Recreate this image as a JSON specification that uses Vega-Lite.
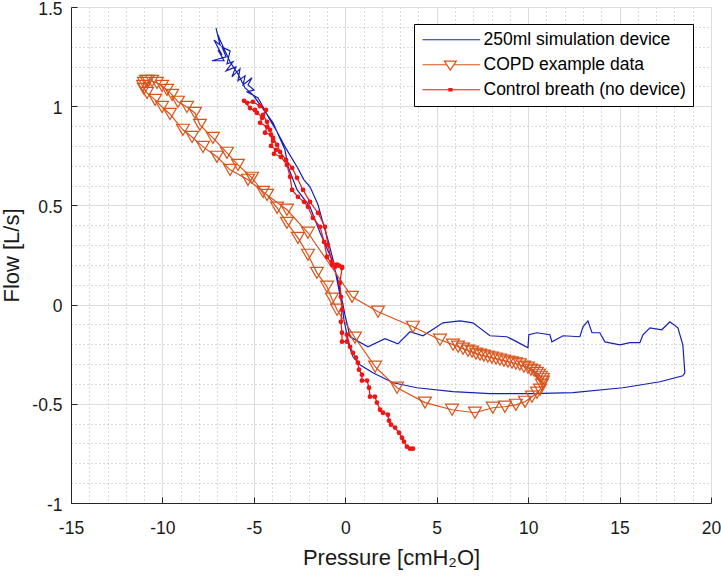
{
  "$schema": "https://vega.github.io/schema/vega-lite/v6.json",
  "width": 640,
  "height": 496,
  "autosize": {"type": "none"},
  "padding": {"left": 71, "top": 7, "right": 10, "bottom": 73},
  "background": "white",
  "config": {
    "view": {"stroke": null},
    "font": "Liberation Sans",
    "axis": {"labelFont": "Liberation Sans", "titleFont": "Liberation Sans", "labelColor": "#1a1a1a", "titleColor": "#1a1a1a", "titleFontWeight": "normal"}
  },
  "data": {"values": [
    {"s":"250ml simulation device","i":1,"x":-7.07,"y":1.394},
    {"s":"250ml simulation device","i":2,"x":-6.85,"y":1.309},
    {"s":"250ml simulation device","i":3,"x":-7.18,"y":1.334},
    {"s":"250ml simulation device","i":4,"x":-6.74,"y":1.258},
    {"s":"250ml simulation device","i":5,"x":-6.96,"y":1.284},
    {"s":"250ml simulation device","i":6,"x":-6.63,"y":1.229},
    {"s":"250ml simulation device","i":7,"x":-7.29,"y":1.229},
    {"s":"250ml simulation device","i":8,"x":-6.52,"y":1.249},
    {"s":"250ml simulation device","i":9,"x":-6.74,"y":1.299},
    {"s":"250ml simulation device","i":10,"x":-6.30,"y":1.279},
    {"s":"250ml simulation device","i":11,"x":-6.47,"y":1.214},
    {"s":"250ml simulation device","i":12,"x":-6.14,"y":1.224},
    {"s":"250ml simulation device","i":13,"x":-6.52,"y":1.178},
    {"s":"250ml simulation device","i":14,"x":-5.98,"y":1.198},
    {"s":"250ml simulation device","i":15,"x":-6.20,"y":1.148},
    {"s":"250ml simulation device","i":16,"x":-5.76,"y":1.188},
    {"s":"250ml simulation device","i":17,"x":-5.87,"y":1.128},
    {"s":"250ml simulation device","i":18,"x":-5.48,"y":1.153},
    {"s":"250ml simulation device","i":19,"x":-5.59,"y":1.107},
    {"s":"250ml simulation device","i":20,"x":-5.10,"y":1.143},
    {"s":"250ml simulation device","i":21,"x":-5.32,"y":1.107},
    {"s":"250ml simulation device","i":22,"x":-4.99,"y":1.082},
    {"s":"250ml simulation device","i":23,"x":-5.37,"y":1.072},
    {"s":"250ml simulation device","i":24,"x":-4.77,"y":1.042},
    {"s":"250ml simulation device","i":25,"x":-4.50,"y":0.997},
    {"s":"250ml simulation device","i":26,"x":-4.12,"y":0.931},
    {"s":"250ml simulation device","i":27,"x":-3.73,"y":0.871},
    {"s":"250ml simulation device","i":28,"x":-3.41,"y":0.815},
    {"s":"250ml simulation device","i":29,"x":-3.13,"y":0.770},
    {"s":"250ml simulation device","i":30,"x":-2.64,"y":0.695},
    {"s":"250ml simulation device","i":31,"x":-2.26,"y":0.629},
    {"s":"250ml simulation device","i":32,"x":-1.93,"y":0.594},
    {"s":"250ml simulation device","i":33,"x":-1.49,"y":0.503},
    {"s":"250ml simulation device","i":34,"x":-1.27,"y":0.428},
    {"s":"250ml simulation device","i":35,"x":-0.95,"y":0.327},
    {"s":"250ml simulation device","i":36,"x":-0.67,"y":0.226},
    {"s":"250ml simulation device","i":37,"x":-0.40,"y":0.100},
    {"s":"250ml simulation device","i":38,"x":-0.18,"y":-0.001},
    {"s":"250ml simulation device","i":39,"x":-0.07,"y":-0.077},
    {"s":"250ml simulation device","i":40,"x":0.09,"y":-0.152},
    {"s":"250ml simulation device","i":41,"x":0.15,"y":-0.192},
    {"s":"250ml simulation device","i":42,"x":0.42,"y":-0.263},
    {"s":"250ml simulation device","i":43,"x":0.80,"y":-0.303},
    {"s":"250ml simulation device","i":44,"x":1.51,"y":-0.344},
    {"s":"250ml simulation device","i":45,"x":2.61,"y":-0.394},
    {"s":"250ml simulation device","i":46,"x":3.92,"y":-0.419},
    {"s":"250ml simulation device","i":47,"x":5.89,"y":-0.439},
    {"s":"250ml simulation device","i":48,"x":7.91,"y":-0.449},
    {"s":"250ml simulation device","i":49,"x":10.26,"y":-0.449},
    {"s":"250ml simulation device","i":50,"x":12.45,"y":-0.444},
    {"s":"250ml simulation device","i":51,"x":15.18,"y":-0.419},
    {"s":"250ml simulation device","i":52,"x":17.21,"y":-0.389},
    {"s":"250ml simulation device","i":53,"x":18.46,"y":-0.359},
    {"s":"250ml simulation device","i":54,"x":18.57,"y":-0.344},
    {"s":"250ml simulation device","i":55,"x":18.52,"y":-0.279},
    {"s":"250ml simulation device","i":56,"x":18.46,"y":-0.203},
    {"s":"250ml simulation device","i":57,"x":18.19,"y":-0.117},
    {"s":"250ml simulation device","i":58,"x":17.75,"y":-0.087},
    {"s":"250ml simulation device","i":59,"x":17.31,"y":-0.127},
    {"s":"250ml simulation device","i":60,"x":16.66,"y":-0.117},
    {"s":"250ml simulation device","i":61,"x":16.28,"y":-0.152},
    {"s":"250ml simulation device","i":62,"x":16.11,"y":-0.192},
    {"s":"250ml simulation device","i":63,"x":15.57,"y":-0.192},
    {"s":"250ml simulation device","i":64,"x":15.02,"y":-0.203},
    {"s":"250ml simulation device","i":65,"x":14.20,"y":-0.188},
    {"s":"250ml simulation device","i":66,"x":13.92,"y":-0.142},
    {"s":"250ml simulation device","i":67,"x":13.49,"y":-0.142},
    {"s":"250ml simulation device","i":68,"x":13.27,"y":-0.082},
    {"s":"250ml simulation device","i":69,"x":13.00,"y":-0.112},
    {"s":"250ml simulation device","i":70,"x":12.83,"y":-0.162},
    {"s":"250ml simulation device","i":71,"x":11.91,"y":-0.157},
    {"s":"250ml simulation device","i":72,"x":11.30,"y":-0.188},
    {"s":"250ml simulation device","i":73,"x":11.19,"y":-0.152},
    {"s":"250ml simulation device","i":74,"x":10.48,"y":-0.142},
    {"s":"250ml simulation device","i":75,"x":10.04,"y":-0.152},
    {"s":"250ml simulation device","i":76,"x":9.99,"y":-0.218},
    {"s":"250ml simulation device","i":77,"x":9.39,"y":-0.188},
    {"s":"250ml simulation device","i":78,"x":8.84,"y":-0.162},
    {"s":"250ml simulation device","i":79,"x":7.91,"y":-0.157},
    {"s":"250ml simulation device","i":80,"x":6.98,"y":-0.092},
    {"s":"250ml simulation device","i":81,"x":6.27,"y":-0.082},
    {"s":"250ml simulation device","i":82,"x":5.34,"y":-0.092},
    {"s":"250ml simulation device","i":83,"x":4.25,"y":-0.157},
    {"s":"250ml simulation device","i":84,"x":3.54,"y":-0.137},
    {"s":"250ml simulation device","i":85,"x":2.88,"y":-0.198},
    {"s":"250ml simulation device","i":86,"x":2.17,"y":-0.172},
    {"s":"250ml simulation device","i":87,"x":1.24,"y":-0.213},
    {"s":"250ml simulation device","i":88,"x":0.26,"y":-0.162},
    {"s":"250ml simulation device","i":89,"x":-0.02,"y":-0.051},
    {"s":"250ml simulation device","i":90,"x":-0.18,"y":0.024},
    {"s":"250ml simulation device","i":91,"x":-0.40,"y":0.125},
    {"s":"250ml simulation device","i":92,"x":-0.73,"y":0.226},
    {"s":"250ml simulation device","i":93,"x":-1.38,"y":0.362},
    {"s":"250ml simulation device","i":94,"x":-1.93,"y":0.493},
    {"s":"250ml simulation device","i":95,"x":-2.64,"y":0.579},
    {"s":"250ml simulation device","i":96,"x":-3.13,"y":0.695},
    {"s":"250ml simulation device","i":97,"x":-3.30,"y":0.780},
    {"s":"250ml simulation device","i":98,"x":-3.95,"y":0.916},
    {"s":"250ml simulation device","i":99,"x":-5.05,"y":1.057},
    {"s":"250ml simulation device","i":100,"x":-5.48,"y":1.092},
    {"s":"250ml simulation device","i":101,"x":-5.87,"y":1.163},
    {"s":"250ml simulation device","i":102,"x":-6.30,"y":1.223},
    {"s":"250ml simulation device","i":103,"x":-6.85,"y":1.334},
    {"s":"250ml simulation device","i":104,"x":-6.96,"y":1.360},

    {"s":"COPD example data","i":1,"x":-10.79,"y":1.127},
    {"s":"COPD example data","i":2,"x":-10.57,"y":1.127},
    {"s":"COPD example data","i":3,"x":-10.30,"y":1.117},
    {"s":"COPD example data","i":4,"x":-10.02,"y":1.102},
    {"s":"COPD example data","i":5,"x":-9.75,"y":1.082},
    {"s":"COPD example data","i":6,"x":-9.47,"y":1.057},
    {"s":"COPD example data","i":7,"x":-9.15,"y":1.022},
    {"s":"COPD example data","i":8,"x":-8.66,"y":0.996},
    {"s":"COPD example data","i":9,"x":-8.22,"y":0.966},
    {"s":"COPD example data","i":10,"x":-7.95,"y":0.906},
    {"s":"COPD example data","i":11,"x":-7.24,"y":0.840},
    {"s":"COPD example data","i":12,"x":-6.47,"y":0.765},
    {"s":"COPD example data","i":13,"x":-5.87,"y":0.704},
    {"s":"COPD example data","i":14,"x":-5.10,"y":0.639},
    {"s":"COPD example data","i":15,"x":-4.50,"y":0.568},
    {"s":"COPD example data","i":16,"x":-3.19,"y":0.478},
    {"s":"COPD example data","i":17,"x":-2.04,"y":0.362},
    {"s":"COPD example data","i":18,"x":0.37,"y":0.039},
    {"s":"COPD example data","i":19,"x":1.79,"y":-0.036},
    {"s":"COPD example data","i":20,"x":3.70,"y":-0.112},
    {"s":"COPD example data","i":21,"x":5.18,"y":-0.177},
    {"s":"COPD example data","i":22,"x":5.89,"y":-0.202},
    {"s":"COPD example data","i":23,"x":6.17,"y":-0.212},
    {"s":"COPD example data","i":24,"x":6.44,"y":-0.222},
    {"s":"COPD example data","i":25,"x":6.71,"y":-0.232},
    {"s":"COPD example data","i":26,"x":6.93,"y":-0.237},
    {"s":"COPD example data","i":27,"x":7.15,"y":-0.247},
    {"s":"COPD example data","i":28,"x":7.37,"y":-0.252},
    {"s":"COPD example data","i":29,"x":7.58,"y":-0.257},
    {"s":"COPD example data","i":30,"x":7.80,"y":-0.262},
    {"s":"COPD example data","i":31,"x":8.02,"y":-0.267},
    {"s":"COPD example data","i":32,"x":8.24,"y":-0.272},
    {"s":"COPD example data","i":33,"x":8.46,"y":-0.277},
    {"s":"COPD example data","i":34,"x":8.68,"y":-0.282},
    {"s":"COPD example data","i":35,"x":8.90,"y":-0.287},
    {"s":"COPD example data","i":36,"x":9.12,"y":-0.292},
    {"s":"COPD example data","i":37,"x":9.33,"y":-0.297},
    {"s":"COPD example data","i":38,"x":9.55,"y":-0.302},
    {"s":"COPD example data","i":39,"x":9.77,"y":-0.313},
    {"s":"COPD example data","i":40,"x":9.99,"y":-0.318},
    {"s":"COPD example data","i":41,"x":10.15,"y":-0.328},
    {"s":"COPD example data","i":42,"x":10.32,"y":-0.333},
    {"s":"COPD example data","i":43,"x":10.48,"y":-0.344},
    {"s":"COPD example data","i":44,"x":10.59,"y":-0.354},
    {"s":"COPD example data","i":45,"x":10.70,"y":-0.364},
    {"s":"COPD example data","i":46,"x":10.81,"y":-0.374},
    {"s":"COPD example data","i":47,"x":10.81,"y":-0.389},
    {"s":"COPD example data","i":48,"x":10.75,"y":-0.404},
    {"s":"COPD example data","i":49,"x":10.65,"y":-0.429},
    {"s":"COPD example data","i":50,"x":10.48,"y":-0.444},
    {"s":"COPD example data","i":51,"x":10.21,"y":-0.464},
    {"s":"COPD example data","i":52,"x":9.83,"y":-0.490},
    {"s":"COPD example data","i":53,"x":9.33,"y":-0.505},
    {"s":"COPD example data","i":54,"x":8.73,"y":-0.515},
    {"s":"COPD example data","i":55,"x":8.07,"y":-0.520},
    {"s":"COPD example data","i":56,"x":7.09,"y":-0.545},
    {"s":"COPD example data","i":57,"x":5.84,"y":-0.530},
    {"s":"COPD example data","i":58,"x":4.36,"y":-0.494},
    {"s":"COPD example data","i":59,"x":2.83,"y":-0.419},
    {"s":"COPD example data","i":60,"x":1.63,"y":-0.313},
    {"s":"COPD example data","i":61,"x":0.53,"y":-0.167},
    {"s":"COPD example data","i":62,"x":-0.45,"y":-0.026},
    {"s":"COPD example data","i":63,"x":-0.73,"y":0.030},
    {"s":"COPD example data","i":64,"x":-1.00,"y":0.090},
    {"s":"COPD example data","i":65,"x":-1.55,"y":0.160},
    {"s":"COPD example data","i":66,"x":-2.04,"y":0.251},
    {"s":"COPD example data","i":67,"x":-2.59,"y":0.336},
    {"s":"COPD example data","i":68,"x":-3.19,"y":0.412},
    {"s":"COPD example data","i":69,"x":-3.73,"y":0.488},
    {"s":"COPD example data","i":70,"x":-4.28,"y":0.553},
    {"s":"COPD example data","i":71,"x":-5.32,"y":0.629},
    {"s":"COPD example data","i":72,"x":-6.30,"y":0.679},
    {"s":"COPD example data","i":73,"x":-7.02,"y":0.745},
    {"s":"COPD example data","i":74,"x":-7.78,"y":0.795},
    {"s":"COPD example data","i":75,"x":-8.38,"y":0.845},
    {"s":"COPD example data","i":76,"x":-8.88,"y":0.881},
    {"s":"COPD example data","i":77,"x":-9.59,"y":0.961},
    {"s":"COPD example data","i":78,"x":-10.02,"y":0.996},
    {"s":"COPD example data","i":79,"x":-10.40,"y":1.032},
    {"s":"COPD example data","i":80,"x":-10.84,"y":1.067},
    {"s":"COPD example data","i":81,"x":-11.01,"y":1.087},
    {"s":"COPD example data","i":82,"x":-11.06,"y":1.102},
    {"s":"COPD example data","i":83,"x":-11.01,"y":1.117},
    {"s":"COPD example data","i":84,"x":-10.90,"y":1.127},

    {"s":"Control breath (no device)","i":1,"x":-0.18,"y":0.190},
    {"s":"Control breath (no device)","i":2,"x":-0.45,"y":0.201},
    {"s":"Control breath (no device)","i":3,"x":-0.73,"y":0.216},
    {"s":"Control breath (no device)","i":4,"x":-0.95,"y":0.301},
    {"s":"Control breath (no device)","i":5,"x":-1.11,"y":0.392},
    {"s":"Control breath (no device)","i":6,"x":-1.49,"y":0.462},
    {"s":"Control breath (no device)","i":7,"x":-1.93,"y":0.518},
    {"s":"Control breath (no device)","i":8,"x":-2.31,"y":0.578},
    {"s":"Control breath (no device)","i":9,"x":-2.64,"y":0.639},
    {"s":"Control breath (no device)","i":10,"x":-2.91,"y":0.689},
    {"s":"Control breath (no device)","i":11,"x":-3.24,"y":0.729},
    {"s":"Control breath (no device)","i":12,"x":-3.57,"y":0.770},
    {"s":"Control breath (no device)","i":13,"x":-3.73,"y":0.805},
    {"s":"Control breath (no device)","i":14,"x":-3.95,"y":0.840},
    {"s":"Control breath (no device)","i":15,"x":-4.12,"y":0.881},
    {"s":"Control breath (no device)","i":16,"x":-4.28,"y":0.921},
    {"s":"Control breath (no device)","i":17,"x":-4.50,"y":0.956},
    {"s":"Control breath (no device)","i":18,"x":-4.34,"y":0.981},
    {"s":"Control breath (no device)","i":19,"x":-4.67,"y":1.001},
    {"s":"Control breath (no device)","i":20,"x":-5.05,"y":1.022},
    {"s":"Control breath (no device)","i":21,"x":-5.37,"y":1.017},
    {"s":"Control breath (no device)","i":22,"x":-5.54,"y":1.027},
    {"s":"Control breath (no device)","i":23,"x":-5.21,"y":0.991},
    {"s":"Control breath (no device)","i":24,"x":-4.83,"y":0.966},
    {"s":"Control breath (no device)","i":25,"x":-4.94,"y":0.981},
    {"s":"Control breath (no device)","i":26,"x":-4.55,"y":0.941},
    {"s":"Control breath (no device)","i":27,"x":-4.66,"y":0.916},
    {"s":"Control breath (no device)","i":28,"x":-4.28,"y":0.896},
    {"s":"Control breath (no device)","i":29,"x":-4.39,"y":0.866},
    {"s":"Control breath (no device)","i":30,"x":-4.06,"y":0.856},
    {"s":"Control breath (no device)","i":31,"x":-3.95,"y":0.825},
    {"s":"Control breath (no device)","i":32,"x":-4.06,"y":0.800},
    {"s":"Control breath (no device)","i":33,"x":-3.79,"y":0.780},
    {"s":"Control breath (no device)","i":34,"x":-3.90,"y":0.760},
    {"s":"Control breath (no device)","i":35,"x":-3.52,"y":0.744},
    {"s":"Control breath (no device)","i":36,"x":-3.19,"y":0.704},
    {"s":"Control breath (no device)","i":37,"x":-3.02,"y":0.644},
    {"s":"Control breath (no device)","i":38,"x":-2.91,"y":0.578},
    {"s":"Control breath (no device)","i":39,"x":-2.59,"y":0.543},
    {"s":"Control breath (no device)","i":40,"x":-2.26,"y":0.518},
    {"s":"Control breath (no device)","i":41,"x":-2.04,"y":0.493},
    {"s":"Control breath (no device)","i":42,"x":-1.77,"y":0.437},
    {"s":"Control breath (no device)","i":43,"x":-1.38,"y":0.392},
    {"s":"Control breath (no device)","i":44,"x":-1.16,"y":0.316},
    {"s":"Control breath (no device)","i":45,"x":-1.00,"y":0.241},
    {"s":"Control breath (no device)","i":46,"x":-0.73,"y":0.201},
    {"s":"Control breath (no device)","i":47,"x":-0.56,"y":0.190},
    {"s":"Control breath (no device)","i":48,"x":-0.34,"y":0.196},
    {"s":"Control breath (no device)","i":49,"x":-0.18,"y":0.185},
    {"s":"Control breath (no device)","i":50,"x":-0.29,"y":0.110},
    {"s":"Control breath (no device)","i":51,"x":-0.24,"y":0.039},
    {"s":"Control breath (no device)","i":52,"x":-0.18,"y":-0.026},
    {"s":"Control breath (no device)","i":53,"x":-0.24,"y":-0.087},
    {"s":"Control breath (no device)","i":54,"x":-0.18,"y":-0.142},
    {"s":"Control breath (no device)","i":55,"x":-0.18,"y":-0.187},
    {"s":"Control breath (no device)","i":56,"x":0.09,"y":-0.187},
    {"s":"Control breath (no device)","i":57,"x":0.09,"y":-0.152},
    {"s":"Control breath (no device)","i":58,"x":0.26,"y":-0.213},
    {"s":"Control breath (no device)","i":59,"x":0.42,"y":-0.243},
    {"s":"Control breath (no device)","i":60,"x":0.58,"y":-0.268},
    {"s":"Control breath (no device)","i":61,"x":0.69,"y":-0.293},
    {"s":"Control breath (no device)","i":62,"x":0.75,"y":-0.328},
    {"s":"Control breath (no device)","i":63,"x":0.91,"y":-0.353},
    {"s":"Control breath (no device)","i":64,"x":0.91,"y":-0.383},
    {"s":"Control breath (no device)","i":65,"x":1.19,"y":-0.383},
    {"s":"Control breath (no device)","i":66,"x":1.30,"y":-0.419},
    {"s":"Control breath (no device)","i":67,"x":1.35,"y":-0.464},
    {"s":"Control breath (no device)","i":68,"x":1.62,"y":-0.464},
    {"s":"Control breath (no device)","i":69,"x":1.73,"y":-0.494},
    {"s":"Control breath (no device)","i":70,"x":1.90,"y":-0.530},
    {"s":"Control breath (no device)","i":71,"x":2.06,"y":-0.545},
    {"s":"Control breath (no device)","i":72,"x":2.33,"y":-0.555},
    {"s":"Control breath (no device)","i":73,"x":2.39,"y":-0.585},
    {"s":"Control breath (no device)","i":74,"x":2.50,"y":-0.605},
    {"s":"Control breath (no device)","i":75,"x":2.72,"y":-0.620},
    {"s":"Control breath (no device)","i":76,"x":2.94,"y":-0.646},
    {"s":"Control breath (no device)","i":77,"x":3.10,"y":-0.671},
    {"s":"Control breath (no device)","i":78,"x":3.21,"y":-0.691},
    {"s":"Control breath (no device)","i":79,"x":3.37,"y":-0.716},
    {"s":"Control breath (no device)","i":80,"x":3.54,"y":-0.726},
    {"s":"Control breath (no device)","i":81,"x":3.70,"y":-0.726}
  ]},
  "resolve": {"axis": {"x": "independent", "y": "independent"}},
  "layer": [
    {
      "transform": [{"filter": "datum.s === '250ml simulation device'"}],
      "mark": {"type": "line", "strokeWidth": 1.2},
      "encoding": {
        "x": {"field": "x", "type": "quantitative", "scale": {"domain": [-15, 20], "nice": false, "zero": false},
          "axis": {"orient": "bottom", "values": [-14,-13,-12,-11,-9,-8,-7,-6,-4,-3,-2,-1,1,2,3,4,6,7,8,9,11,12,13,14,16,17,18,19], "grid": true, "gridColor": "#b5b5b5", "gridDash": [1, 3], "gridWidth": 1, "domain": false, "ticks": false, "labels": false, "title": null}},
        "y": {"field": "y", "type": "quantitative", "scale": {"domain": [-1, 1.5], "nice": false, "zero": false},
          "axis": {"orient": "left", "values": [-0.9,-0.8,-0.7,-0.6,-0.4,-0.3,-0.2,-0.1,0.1,0.2,0.3,0.4,0.6,0.7,0.8,0.9,1.1,1.2,1.3,1.4], "grid": true, "gridColor": "#b5b5b5", "gridDash": [1, 3], "gridWidth": 1, "domain": false, "ticks": false, "labels": false, "title": null}},
        "color": {"field": "s", "type": "nominal", "scale": {"domain": ["250ml simulation device", "COPD example data", "Control breath (no device)"], "range": ["#1520b5", "#d95319", "#f01414"]},
          "legend": {"title": null, "orient": "none", "legendX": 343, "legendY": 17, "strokeColor": "#000000", "fillColor": "#ffffff", "padding": 7, "labelFontSize": 17.5, "labelFont": "Liberation Sans", "labelColor": "#000000", "labelOffset": 45, "labelLimit": 0, "symbolSize": 144, "symbolStrokeWidth": 1.2, "symbolFillColor": "transparent", "rowPadding": 6, "encode": {"symbols": {"update": {"fill": {"value": "transparent"}}}}}},
        "order": {"field": "i", "type": "quantitative"}
      }
    },
    {
      "transform": [{"filter": "datum.s === 'COPD example data'"}],
      "mark": {"type": "line", "strokeWidth": 1.2},
      "encoding": {
        "x": {"field": "x", "type": "quantitative",
          "axis": {"orient": "bottom", "values": [-15,-10,-5,0,5,10,15,20], "labelExpr": "'' + datum.value", "grid": true, "gridColor": "#dddddd", "gridWidth": 1, "domain": true, "domainColor": "#262626", "domainWidth": 1, "ticks": true, "tickColor": "#262626", "tickSize": -6, "labelPadding": 22, "labelFontSize": 17.5, "labelFlush": false, "labelOverlap": false, "title": "Pressure [cmH₂O]", "titleFontSize": 22, "titlePadding": 11}},
        "y": {"field": "y", "type": "quantitative",
          "axis": {"orient": "left", "values": [-1,-0.5,0,0.5,1,1.5], "labelExpr": "'' + datum.value", "grid": true, "gridColor": "#dddddd", "gridWidth": 1, "domain": true, "domainColor": "#262626", "domainWidth": 1, "ticks": true, "tickColor": "#262626", "tickSize": -6, "labelPadding": 15, "labelOffset": 2, "labelFontSize": 17.5, "labelOverlap": false, "title": "Flow [L/s]", "titleFontSize": 22, "titlePadding": 8}},
        "color": {"field": "s", "type": "nominal"},
        "order": {"field": "i", "type": "quantitative"}
      }
    },
    {
      "transform": [{"filter": "datum.s === 'COPD example data'"}],
      "mark": {"type": "point", "shape": "triangle-down", "filled": false, "size": 165, "strokeWidth": 1.2, "opacity": 1},
      "encoding": {
        "x": {"field": "x", "type": "quantitative", "axis": null},
        "y": {"field": "y", "type": "quantitative", "axis": null},
        "color": {"field": "s", "type": "nominal"}
      }
    },
    {
      "transform": [{"filter": "datum.s === 'Control breath (no device)'"}],
      "mark": {"type": "line", "strokeWidth": 1.2},
      "encoding": {
        "x": {"field": "x", "type": "quantitative", "axis": null},
        "y": {"field": "y", "type": "quantitative", "axis": null},
        "color": {"field": "s", "type": "nominal"},
        "order": {"field": "i", "type": "quantitative"}
      }
    },
    {
      "transform": [{"filter": "datum.s === 'Control breath (no device)'"}],
      "mark": {"type": "point", "shape": "circle", "filled": false, "size": 5, "strokeWidth": 2.6, "opacity": 1},
      "encoding": {
        "x": {"field": "x", "type": "quantitative", "axis": null},
        "y": {"field": "y", "type": "quantitative", "axis": null},
        "color": {"field": "s", "type": "nominal"}
      }
    },
    {
      "transform": [{"filter": "datum.x > 100"}],
      "mark": {"type": "point", "filled": false, "strokeWidth": 1.2, "opacity": 1},
      "encoding": {
        "x": {"field": "x", "type": "quantitative", "axis": null},
        "y": {"field": "y", "type": "quantitative", "axis": null},
        "color": {"field": "s", "type": "nominal",
          "legend": {"title": null, "orient": "none", "legendX": 343, "legendY": 17, "strokeColor": "#000000", "fillColor": "#ffffff", "padding": 7, "labelFontSize": 17.5, "labelFont": "Liberation Sans", "labelColor": "#000000", "labelOffset": 45, "labelLimit": 0, "symbolSize": 144, "symbolStrokeWidth": 1.2, "symbolFillColor": "transparent", "rowPadding": 6, "encode": {"symbols": {"update": {"fill": {"value": "transparent"}}}}}},
        "shape": {"field": "s", "type": "nominal",
          "scale": {"domain": ["250ml simulation device", "COPD example data", "Control breath (no device)"], "range": ["M-1.2,0H8.4", "M-1.2,0H2.83M4.03,0H8.4M2.43,-0.6H4.43L3.43,0.9Z", "M-1.2,0H8.4M3.2,-0.2H3.7V0.2H3.2Z"]},
          "legend": {"title": null, "orient": "none", "legendX": 343, "legendY": 17, "strokeColor": "#000000", "fillColor": "#ffffff", "padding": 7, "labelFontSize": 17.5, "labelFont": "Liberation Sans", "labelColor": "#000000", "labelOffset": 45, "labelLimit": 0, "symbolSize": 144, "symbolStrokeWidth": 1.2, "symbolFillColor": "transparent", "rowPadding": 6, "encode": {"symbols": {"update": {"fill": {"value": "transparent"}}}}}}
      }
    }
  ]
}
